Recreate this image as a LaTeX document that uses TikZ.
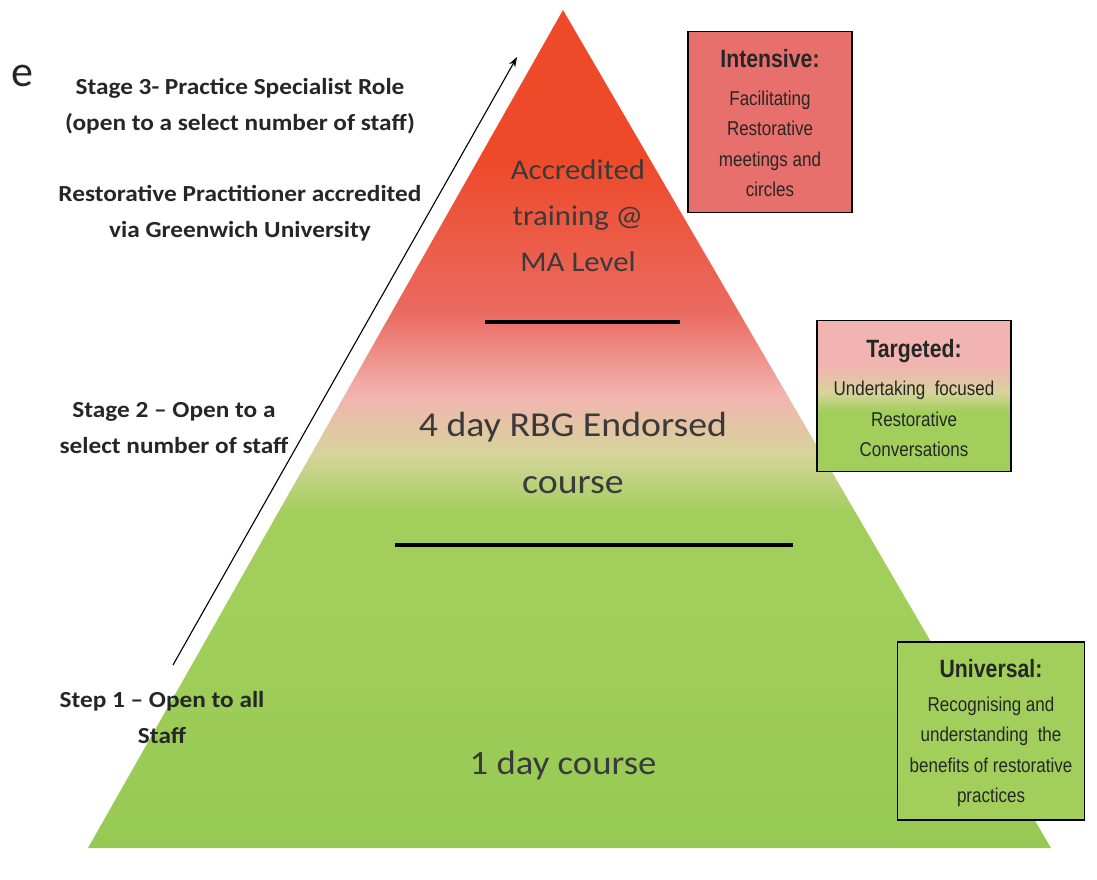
\documentclass[tikz,border=0pt]{standalone}
\usepackage{fontspec}
\setmainfont{Carlito}
\newfontfamily\narrowfont[FakeStretch=0.85]{Liberation Sans}
\newfontfamily\stagefont[FakeStretch=1.1,Ligatures=TeX]{Carlito}
\newfontfamily\pyrfont[FakeStretch=1.08,Ligatures=TeX]{Carlito}
\usetikzlibrary{arrows.meta}
\definecolor{topred}{HTML}{EE4A2A}
\definecolor{midred}{HTML}{EA6A60}
\definecolor{pinkc}{HTML}{F2B4B0}
\definecolor{beigec}{HTML}{D6D49A}
\definecolor{greenc}{HTML}{A2CF5C}
\definecolor{greend}{HTML}{96C953}
\definecolor{boxred}{HTML}{E8706C}
\definecolor{txtdark}{HTML}{262626}
\definecolor{txtgray}{HTML}{3A3A3A}
\pgfdeclareverticalshading{pyr}{100bp}{color(0bp)=(greend); color(25bp)=(greend); color(40bp)=(greenc); color(45bp)=(greenc); color(48.5bp)=(beigec); color(52bp)=(pinkc); color(57bp)=(midred); color(66bp)=(topred); color(75bp)=(topred); color(100bp)=(topred)}
\pgfdeclareverticalshading{tgt}{100bp}{color(0bp)=(greenc); color(25bp)=(greenc); color(45bp)=(greenc); color(51bp)=(beigec); color(60bp)=(pinkc); color(75bp)=(pinkc); color(100bp)=(pinkc)}
\tikzset{
  stagetxt/.style={font=\stagefont\bfseries\fontsize{23}{36}\selectfont, text=txtdark, align=center},
  pyrtxt/.style={text=txtgray, align=center},
  levelbox/.style={draw=black, line width=1.8pt, inner sep=0pt},
  boxtitle/.style={font=\narrowfont\bfseries\fontsize{25}{28}\selectfont, text=txtdark},
  boxbody/.style={font=\narrowfont\fontsize{20}{30.5}\selectfont, text=txtdark, align=center},
  divider/.style={line width=4pt, black},
}
\begin{document}
\begin{tikzpicture}[x=1pt,y=-1pt]
\useasboundingbox (0,0) rectangle (1097,879);
% pyramid
\coordinate (apex) at (563,10);
\coordinate (bl) at (88,848);
\coordinate (br) at (1051,848);
\shade[shading=pyr] (apex) -- (br) -- (bl) -- cycle;
% dividers
\coordinate (d1l) at (485,322); \coordinate (d1r) at (680,322);
\coordinate (d2l) at (395,545); \coordinate (d2r) at (793,545);
\draw[divider] (d1l) -- (d1r);
\draw[divider, line width=4.5pt] (d2l) -- (d2r);
% pyramid texts
\node[pyrtxt, font=\pyrfont\fontsize{28.5}{46}\selectfont] (acc) at (578,216) {Accredited\\training @\\MA Level};
\node[pyrtxt, font=\pyrfont\fontsize{35}{57}\selectfont] (four) at (573,453) {4 day RBG Endorsed\\course};
\node[pyrtxt, font=\pyrfont\fontsize{34}{40}\selectfont] (one) at (563,765) {1 day course};
% arrow
\coordinate (arrS) at (173,665);
\coordinate (arrE) at (517,57);
\draw[-{Stealth[length=10pt,width=7pt]}, line width=1.1pt] (arrS) -- (arrE);
% left texts
\node[font=\fontsize{44}{44}\selectfont, text=txtdark] (e) at (22,76) {e};
\node[stagetxt] (s3) at (240,106) {Stage 3- Practice Specialist Role\\(open to a select number of staff)};
\node[stagetxt] (s3b) at (240,213) {Restorative Practitioner accredited\\via Greenwich University};
\node[stagetxt] (s2) at (174,428) {Stage 2 – Open to a\\select number of staff};
\node[stagetxt] (s1) at (162,718) {Step 1 – Open to all\\Staff};
% boxes
\node[levelbox, fill=boxred, minimum width=164pt, minimum height=181pt] (bi) at (770,122) {};
\node[boxtitle] (bit) at (770,59) {Intensive:};
\node[boxbody] (bib) at (770,144) {Facilitating\\Restorative\\meetings and\\circles};
\node[levelbox, shading=tgt, minimum width=194pt, minimum height=151pt] (bt) at (914,396) {};
\node[boxtitle] (btt) at (914,351) {Targeted:};
\node[boxbody] (btb) at (914,419) {Undertaking\ \ focused\\Restorative\\Conversations};
\node[levelbox, fill=greenc, minimum width=187pt, minimum height=178pt] (bu) at (991,731) {};
\node[boxtitle] (but) at (991,669) {Universal:};
\node[boxbody] (bub) at (991,752) {Recognising and\\understanding\ \ the\\benefits of restorative\\practices};
\end{tikzpicture}
\end{document}
